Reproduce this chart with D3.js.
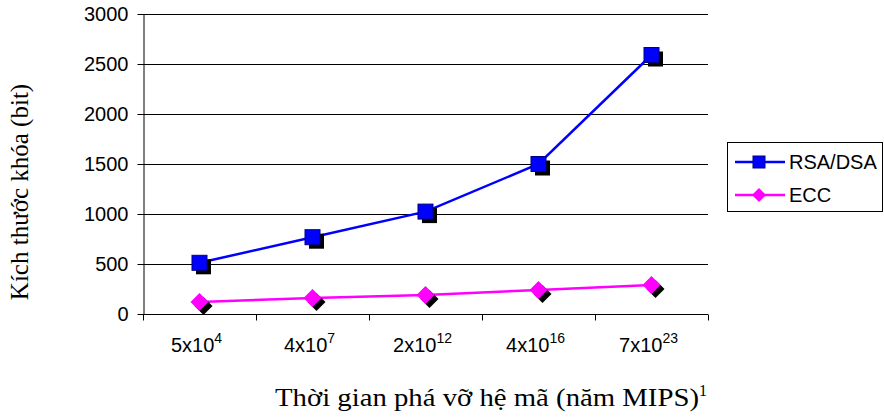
<!DOCTYPE html>
<html>
<head>
<meta charset="utf-8">
<script src="https://cdn.jsdelivr.net/npm/d3@7"></script>
<style>
  body { margin: 0; background: #fff; }
  svg { display: block; }
</style>
</head>
<body>
<svg id="chart"></svg>
<script>
// du lieu doc tu hinh
var xBase = ["5x10", "4x10", "2x10", "4x10", "7x10"];
var xExp = ["4", "7", "12", "16", "23"];
var rsaValues = [512, 768, 1024, 1500, 2590];
var eccValues = [120, 160, 190, 240, 290];
var yTicks = [0, 500, 1000, 1500, 2000, 2500, 3000];
var seriesNames = ["RSA/DSA", "ECC"];

var width = 884, height = 419;
var plot = {left: 143, right: 708, top: 14, bottom: 314};
var sansFont = "'Liberation Sans', Arial, sans-serif";
var serifFont = "'Liberation Serif', 'Times New Roman', serif";

var svg = d3.select("#chart")
    .attr("width", width)
    .attr("height", height);

var x = d3.scaleBand()
    .domain(d3.range(xBase.length))
    .range([plot.left, plot.right])
    .padding(0);

var y = d3.scaleLinear()
    .domain([0, 3000])
    .range([plot.bottom, plot.top]);

// luoi ngang
svg.append("g")
    .selectAll("line")
    .data(yTicks.filter(d => d > 0))
    .join("line")
    .attr("x1", plot.left)
    .attr("x2", plot.right)
    .attr("y1", d => Math.round(y(d)) + 0.5)
    .attr("y2", d => Math.round(y(d)) + 0.5)
    .attr("stroke", "#000")
    .attr("stroke-width", 1);

// truc y
var yAxis = g => g
    .attr("transform", `translate(${plot.left + 0.5},0)`)
    .call(d3.axisLeft(y).tickValues(yTicks).tickFormat(d3.format("d"))
        .tickSize(6).tickPadding(9).tickSizeOuter(0))
    .call(g => g.selectAll(".tick line").attr("stroke", "#000"))
    .call(g => g.select(".domain").attr("stroke", "#000"))
    .call(g => g.selectAll(".tick text")
        .attr("font-family", sansFont)
        .attr("font-size", 20)
        .attr("fill", "#000"));
svg.append("g").call(yAxis);

// truc x
var xg = svg.append("g")
    .attr("transform", `translate(0,${Math.round(plot.bottom) + 0.5})`);
xg.append("line")
    .attr("x1", plot.left)
    .attr("x2", plot.right)
    .attr("stroke", "#000");
var xEdges = d3.range(xBase.length + 1).map(i => i < xBase.length ? x(i) : x(i - 1) + x.bandwidth());
xg.selectAll(".xt")
    .data(xEdges)
    .join("line")
    .attr("class", "xt")
    .attr("x1", d => Math.round(d) + 0.5)
    .attr("x2", d => Math.round(d) + 0.5)
    .attr("y1", 0)
    .attr("y2", 6)
    .attr("stroke", "#000");

var xLab = xg.selectAll(".xl")
    .data(d3.range(xBase.length))
    .join("text")
    .attr("class", "xl")
    .attr("x", i => x(i) + x.bandwidth() / 2 - 3)
    .attr("y", 37)
    .attr("text-anchor", "middle")
    .attr("font-family", sansFont)
    .attr("font-size", 20)
    .attr("fill", "#000");
xLab.append("tspan").text(i => xBase[i]);
xLab.append("tspan")
    .attr("dy", -9)
    .attr("font-size", 14)
    .text(i => xExp[i]);

// duong
var line = d3.line()
    .x((d, i) => x(i) + x.bandwidth() / 2)
    .y(d => y(d));

svg.append("path")
    .datum(rsaValues)
    .attr("fill", "none")
    .attr("stroke", "#0000ff")
    .attr("stroke-width", 2.5)
    .attr("d", line);

svg.append("path")
    .datum(eccValues)
    .attr("fill", "none")
    .attr("stroke", "#ff00ff")
    .attr("stroke-width", 2.5)
    .attr("d", line);

var sq = 15, dm = 9, sh = 4;

// bong + diem
var sqG = svg.append("g");
sqG.selectAll(".shadow")
    .data(rsaValues)
    .join("rect")
    .attr("class", "shadow")
    .attr("x", (d, i) => x(i) + x.bandwidth() / 2 - sq / 2 + sh)
    .attr("y", d => y(d) - sq / 2 + sh)
    .attr("width", sq)
    .attr("height", sq)
    .attr("fill", "#000");
sqG.selectAll(".mk")
    .data(rsaValues)
    .join("rect")
    .attr("class", "mk")
    .attr("x", (d, i) => x(i) + x.bandwidth() / 2 - sq / 2)
    .attr("y", d => y(d) - sq / 2)
    .attr("width", sq)
    .attr("height", sq)
    .attr("fill", "#0000ff")
    .attr("stroke", "#000080")
    .attr("stroke-width", 1);

var diamond = (cx, cy, r) => `M${cx},${cy - r}L${cx + r},${cy}L${cx},${cy + r}L${cx - r},${cy}Z`;
var dmG = svg.append("g");
dmG.selectAll(".shadow")
    .data(eccValues)
    .join("path")
    .attr("class", "shadow")
    .attr("d", (d, i) => diamond(x(i) + x.bandwidth() / 2 + sh, y(d) + sh, dm))
    .attr("fill", "#000");
dmG.selectAll(".mk")
    .data(eccValues)
    .join("path")
    .attr("class", "mk")
    .attr("d", (d, i) => diamond(x(i) + x.bandwidth() / 2, y(d), dm))
    .attr("fill", "#ff00ff");

// chu thich
var legend = svg.append("g");
legend.append("rect")
    .attr("x", 727.5)
    .attr("y", 142.5)
    .attr("width", 155)
    .attr("height", 69)
    .attr("fill", "#fff")
    .attr("stroke", "#000");
var legColors = ["#0000ff", "#ff00ff"];
var legY = [162, 195];
seriesNames.forEach(function(name, i){
    legend.append("line")
        .attr("x1", 735).attr("x2", 785)
        .attr("y1", legY[i]).attr("y2", legY[i])
        .attr("stroke", legColors[i])
        .attr("stroke-width", 2.5);
    if(i === 0){
        legend.append("rect")
            .attr("x", 759 - 6).attr("y", legY[i] - 6)
            .attr("width", 12).attr("height", 12)
            .attr("fill", "#0000ff")
            .attr("stroke", "#000080");
    }else{
        legend.append("path")
            .attr("d", diamond(759, legY[i], 7))
            .attr("fill", "#ff00ff");
    }
    legend.append("text")
        .attr("x", 789)
        .attr("y", legY[i] + 7)
        .attr("font-family", sansFont)
        .attr("font-size", 20)
        .attr("fill", "#000")
        .text(name);
});

// tieu de truc
svg.append("text")
    .attr("transform", "translate(28,192) rotate(-90)")
    .attr("text-anchor", "middle")
    .attr("font-family", serifFont)
    .attr("font-size", 25)
    .attr("fill", "#000")
    .text("Kích thước khóa (bit)");

var xt = svg.append("text")
    .attr("x", 275)
    .attr("y", 406)
    .attr("font-family", serifFont)
    .attr("font-size", 25)
    .attr("fill", "#000");
xt.append("tspan")
    .attr("textLength", 424)
    .attr("lengthAdjust", "spacingAndGlyphs")
    .text("Thời gian phá vỡ hệ mã (năm MIPS)");
xt.append("tspan").attr("dy", -10).attr("font-size", 16).text("1");
</script>
</body>
</html>
